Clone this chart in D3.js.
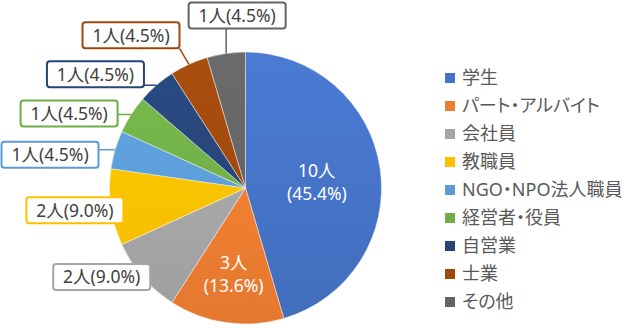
<!DOCTYPE html>
<html>
<head>
<meta charset="utf-8">
<script src="https://cdn.jsdelivr.net/npm/d3@7/dist/d3.min.js"></script>
<style>
  html, body { margin: 0; padding: 0; background: #fff; }
  svg { display: block; font-family: "Noto Sans", "Noto Sans CJK JP", sans-serif; }
  svg text { font-feature-settings: "palt"; }
</style>
</head>
<body>
<svg id="chart" width="630" height="328"></svg>
<script>
// Respondents by occupation
const categories = ["学生", "パート・アルバイト", "会社員", "教職員", "NGO・NPO法人職員", "経営者・役員", "自営業", "士業", "その他"];
const counts = [10, 3, 2, 2, 1, 1, 1, 1, 1];
const percentLabels = ["45.4%", "13.6%", "9.0%", "9.0%", "4.5%", "4.5%", "4.5%", "4.5%", "4.5%"];
const colors = ["#4472C4", "#ED7D31", "#A5A5A5", "#FFC000", "#5B9BD5", "#70AD47", "#264478", "#9E480E", "#636363"];

// Label placement: inside labels sit at a fraction of the radius,
// callout boxes are shifted from the slice's outer edge point.
const insideLabels = { 0: 0.53, 1: 0.61 };
const calloutOffsets = {
  2: [-41, 0], 3: [-36, 3], 4: [-65, 5], 5: [-62, -1],
  6: [-61, -11], 7: [-58, -29], 8: [11, -38]
};

const svg = d3.select("#chart");
const cx = 245.5, cy = 188, R = 136;

const pie = d3.pie().sort(null).value(d => d)(counts);
const arc = d3.arc().innerRadius(0).outerRadius(R);

const defs = svg.append("defs");
colors.forEach((c, i) => {
  const g = defs.append("linearGradient")
    .attr("id", "grad" + i)
    .attr("gradientUnits", "userSpaceOnUse")
    .attr("x1", 0).attr("y1", -R).attr("x2", 0).attr("y2", R);
  g.append("stop").attr("offset", "0%").attr("stop-color", d3.color(c).brighter(0.22));
  g.append("stop").attr("offset", "100%").attr("stop-color", d3.color(c).darker(0.12));
});

const pieG = svg.append("g").attr("transform", `translate(${cx},${cy})`);

pieG.selectAll("path.slice")
  .data(pie)
  .join("path")
  .attr("class", "slice")
  .attr("d", arc)
  .attr("fill", (d, i) => `url(#grad${i})`)
  .attr("stroke", "rgba(255,255,255,0.55)")
  .attr("stroke-width", 0.8);

const labelText = i => `${counts[i]}人(${percentLabels[i]})`;

// Inside labels (two lines, white)
pie.forEach((d, i) => {
  if (insideLabels[i] === undefined) return;
  const a = (d.startAngle + d.endAngle) / 2;
  const r = R * insideLabels[i];
  const x = r * Math.sin(a), y = -r * Math.cos(a);
  const t = pieG.append("text")
    .attr("text-anchor", "middle")
    .attr("fill", "#fff")
    .attr("font-size", 17.5);
  t.append("tspan").attr("x", x).attr("y", y - 1).text(`${counts[i]}人`);
  t.append("tspan").attr("x", x).attr("y", y + 22).text(`(${percentLabels[i]})`);
});

// Callout boxes with leader lines
const boxW = 97, boxH = 26;
pie.forEach((d, i) => {
  const off = calloutOffsets[i];
  if (!off) return;
  const a = (d.startAngle + d.endAngle) / 2;
  const ex = R * Math.sin(a), ey = -R * Math.cos(a);
  const bx = ex + off[0], by = ey + off[1];
  const x0 = bx - boxW / 2, x1 = bx + boxW / 2, y0 = by - boxH / 2, y1 = by + boxH / 2;
  const nx = Math.max(x0, Math.min(x1, ex)), ny = Math.max(y0, Math.min(y1, ey));
  const dist = Math.hypot(nx - ex, ny - ey);
  if (dist > 3) {
    pieG.append("line")
      .attr("x1", ex).attr("y1", ey).attr("x2", nx).attr("y2", ny)
      .attr("stroke", colors[i]).attr("stroke-width", 1.5);
  }
  pieG.append("rect")
    .attr("x", x0).attr("y", y0).attr("width", boxW).attr("height", boxH)
    .attr("rx", 3).attr("ry", 3)
    .attr("fill", "#fff")
    .attr("stroke", colors[i]).attr("stroke-width", 2);
  pieG.append("text")
    .attr("x", bx).attr("y", by)
    .attr("dy", "0.36em")
    .attr("text-anchor", "middle")
    .attr("fill", "#404040")
    .attr("font-size", 17.5)
    .text(labelText(i));
});

// Legend
const legendY = d3.scalePoint().domain(categories).range([78, 302]);
const legend = svg.append("g");
categories.forEach((c, i) => {
  const y = legendY(c);
  legend.append("rect")
    .attr("x", 445).attr("y", y - 5).attr("width", 10).attr("height", 10)
    .attr("fill", colors[i]);
  legend.append("text")
    .attr("x", 462).attr("y", y).attr("dy", "0.35em")
    .attr("fill", "#595959").attr("font-size", 18)
    .text(c);
});
</script>
</body>
</html>
